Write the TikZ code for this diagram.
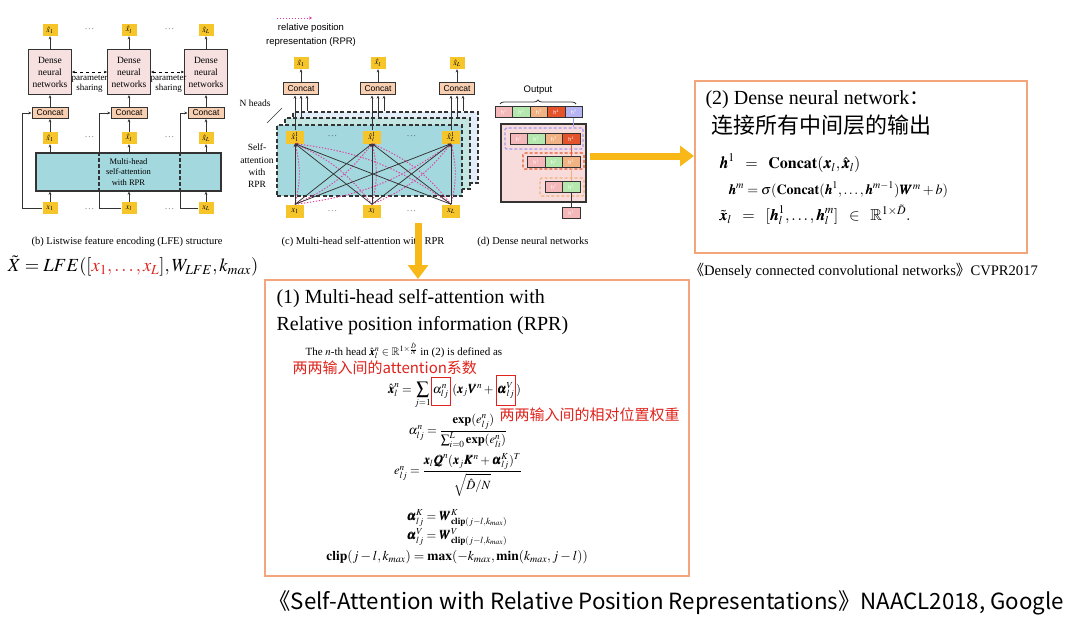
\documentclass[tikz,border=0pt]{standalone}
\usepackage{amsmath}
\usepackage{amssymb}
\usepackage{mathptmx}
\usepackage{bm}
\usepackage{fontspec}
\setmainfont{Liberation Serif}
\setsansfont{Liberation Sans}
\newfontfamily\cjk{Noto Sans CJK SC}
\usetikzlibrary{arrows.meta,decorations.pathreplacing}

\definecolor{tagyellow}{HTML}{F6C52A}
\definecolor{densepink}{HTML}{F6E0E0}
\definecolor{peach}{HTML}{F9CFB2}
\definecolor{attteal}{HTML}{A3D9DE}
\definecolor{layermid}{HTML}{C4E6E2}
\definecolor{layerback}{HTML}{E4EEF8}
\definecolor{rprpink}{HTML}{E23A9E}
\definecolor{arrowgold}{HTML}{F8B818}
\definecolor{frameorange}{HTML}{F3A67C}
\definecolor{notered}{HTML}{E0231C}
\definecolor{hone}{HTML}{F4B8BA}
\definecolor{htwo}{HTML}{B4E8AE}
\definecolor{hthree}{HTML}{F1B384}
\definecolor{hfour}{HTML}{E5532B}
\definecolor{hfive}{HTML}{B6B4F2}
\definecolor{hbig}{HTML}{F8DCDC}
\definecolor{hpurple}{HTML}{A39CF0}
\definecolor{hred}{HTML}{E85A30}
\definecolor{horange}{HTML}{F2B07A}
\definecolor{inkgray}{HTML}{333333}

\newcommand{\fs}[2]{\fontsize{#1}{#2}\selectfont}
\newcommand{\eqf}{\fs{12.5}{15}}
\newcommand{\wide}{\mkern8mu}

\begin{document}
\begin{tikzpicture}[x=1pt,y=-1pt,
  arr/.style={-{Stealth[length=3.2pt,width=2.8pt]}, line width=0.75pt, draw=inkgray},
  tag/.style={fill=tagyellow, inner sep=0pt, minimum width=15pt, minimum height=12pt, font=\fs{8}{9}},
  bigtag/.style={tag, minimum width=18pt, minimum height=13pt, font=\fs{8.5}{9}},
  densebox/.style={draw=inkgray, line width=1.2pt, fill=densepink, minimum width=43pt, minimum height=45pt, align=center, inner sep=0pt, font=\fs{9.5}{12}},
  catbox/.style={draw=inkgray, line width=1pt, fill=peach, minimum width=36pt, minimum height=11pt, inner sep=0pt, font=\sffamily\fs{8.5}{10}},
  attbox/.style={draw=inkgray, line width=1.2pt, fill=attteal, minimum width=185pt, minimum height=38pt, align=center, inner sep=0pt, font=\fs{8.5}{10.5}},
  layer/.style={draw=inkgray, line width=1.1pt, dash pattern=on 4pt off 2.5pt, minimum width=185pt, minimum height=71pt, inner sep=0pt},
  rpr/.style={draw=rprpink, line width=0.9pt, dash pattern=on 1.4pt off 1.6pt, -{Stealth[length=3pt,width=3pt]}},
  hcell/.style={draw=inkgray, line width=0.8pt, minimum width=17.5pt, minimum height=10.5pt, inner sep=0pt, text=white, font=\sffamily\fs{5.5}{6}},
  hframe/.style={line width=1.3pt, dash pattern=on 3pt off 2pt, rounded corners=1.5pt, inner sep=0pt},
  bigarrow/.style={line width=7pt, draw=arrowgold, -{Triangle[length=14pt,width=20pt]}},
  frame/.style={draw=frameorange, line width=2pt, fill=white, inner sep=0pt},
  caption/.style={font=\fs{10.5}{12}},
  redbox/.style={draw=notered, line width=1.1pt, inner xsep=1.5pt, inner ysep=7pt, anchor=base west, font=\eqf},
  eqpart/.style={inner sep=0pt, anchor=base west, font=\eqf}
]
\useasboundingbox (0,0) rectangle (1080,626);
\fill[white] (0,0) rectangle (1080,626);

% ---------------- (b) listwise feature encoding ----------------
\foreach \i/\cx/\s in {1/50/1,2/129/l,3/206/L}{
  \node[tag] (bout\i) at (\cx,30) {$\hat{x}_{\s}$};
  \node[densebox] (bden\i) at (\cx,72) {Dense\\neural\\networks};
  \node[catbox] (bcat\i) at (\cx,113) {Concat};
  \node[tag] (bhat\i) at (\cx,138) {$\hat{x}_{\s}$};
  \node[tag] (bin\i) at (\cx,208) {$x_{\s}$};
  \draw[arr] (bhat\i) -- (bcat\i);
  \draw[arr] (bcat\i) -- (bden\i);
  \draw[arr] (bden\i) -- (bout\i);
}
\foreach \k/\dx in {1/90,2/170}{
  \node[font=\fs{9}{10}] (bdotA\k) at (\dx,30) {$\cdots$};
  \node[font=\fs{9}{10}] (bdotB\k) at (\dx,138) {$\cdots$};
  \node[font=\fs{9}{10}] (bdotC\k) at (\dx,210) {$\cdots$};
}
\draw[dashed, line width=0.9pt, {Stealth[length=3pt,width=2.6pt]}-{Stealth[length=3pt,width=2.6pt]}] (bden1.east) -- (bden2.west);
\draw[dashed, line width=0.9pt, {Stealth[length=3pt,width=2.6pt]}-{Stealth[length=3pt,width=2.6pt]}] (bden2.east) -- (bden3.west);
\node[font=\fs{9}{10}, align=center] (bshare1) at (89.5,84) {parameter\\sharing};
\node[font=\fs{9}{10}, align=center] (bshare2) at (168.5,84) {parameter\\sharing};

% residual paths from the inputs to the concat blocks
\coordinate (bsk1) at (22,208);
\coordinate (bsk2) at (99,208);
\coordinate (bsk3) at (180,208);
\foreach \i in {1,2,3}{
  \draw[arr] (bin\i.west) -- (bsk\i) |- (bcat\i.west);
}
\node[attbox] (batt) at (128.5,172) {Multi-head\\self-attention\\with RPR};
\foreach \i in {2,3}{
  \draw[line width=1.1pt, inkgray, dash pattern=on 3.5pt off 2.5pt] (bsk\i |- batt.north) -- (bsk\i |- batt.south);
}
\foreach \i in {1,2,3}{
  \draw[arr] (bin\i) -- (bin\i |- batt.south);
  \draw[arr] (batt.north -| bhat\i) -- (bhat\i);
}
\node[caption] (bcap) at (127,242) {(b) Listwise feature encoding (LFE) structure};
\node[font=\fs{18.5}{21}] (bformula) at (133,266) {$\tilde{X} = LFE([\textcolor{notered}{x_1,\ldots,x_L}], W_{LFE}, k_{max})$};

% ---------------- (c) multi-head self-attention with RPR ----------------
\draw[rpr] (277,18) -- (312,18);
\node[font=\sffamily\fs{9.5}{13.5}, align=center] (clegend) at (311,35) {relative position\\representation (RPR)};

\node[layer, fill=layerback] (clay3) at (385.5,147.5) {};
\node[layer, fill=layermid] (clay2) at (377.5,153.5) {};
\node[layer, fill=attteal] (clay1) at (369.5,160.5) {};

\foreach \i/\cx/\s in {1/295/1,2/372/l,3/451/L}{
  \node[bigtag] (chat\i) at (\cx,137) {$\hat{x}^{1}_{\s}$};
  \node[bigtag] (cin\i) at (\cx,211) {$x_{\s}$};
  \node[catbox, minimum width=35pt, minimum height=12pt] (ccat\i) at (\cx+6,89) {Concat};
  \node[tag] (cout\i) at (\cx+6,63) {$\hat{x}_{\s}$};
  \coordinate (cr\i) at ([xshift=6pt]ccat\i.south);
  \draw[arr] (chat\i.north) -- (chat\i.north |- ccat\i.south);
  \draw[arr] (ccat\i.south |- clay2.north) -- (ccat\i.south);
  \draw[arr] (cr\i |- clay3.north) -- (cr\i);
  \draw[arr] (ccat\i) -- (cout\i);
}
\foreach \k/\dx in {1/333,2/412}{
  \node[font=\fs{9}{10}] (cdotA\k) at (\dx,137) {$\cdots$};
  \node[font=\fs{9}{10}] (cdotB\k) at (\dx,212) {$\cdots$};
}
% relative position terms (dotted) and attention links (solid)
\foreach \i in {1,2,3}{
  \foreach \j in {1,2,3}{
    \draw[rpr] (cin\j.north) to[bend right=14] (chat\i.south);
  }
}
\foreach \i in {1,2,3}{
  \foreach \j in {1,2,3}{
    \draw[arr] (cin\j.north) -- (chat\i.south);
  }
}
\node[anchor=east, font=\fs{9.5}{11}] (cheads) at (274,103) {N heads};
\draw[line width=0.6pt, inkgray] (267,123) -- (282,108);
\node[align=center, font=\fs{9.5}{12.3}] (cself) at (257,166) {Self-\\attention\\with\\RPR};
\node[caption] (ccap) at (363,242) {(c) Multi-head self-attention with RPR};

% ---------------- (d) dense neural networks ----------------
\node[font=\sffamily\fs{9.5}{11}] (doutlab) at (538,90) {Output};
\draw[line width=0.8pt, inkgray, decorate, decoration={brace, amplitude=4pt}] (500,104) -- (576,104);

\node[draw=inkgray, line width=1.2pt, fill=hbig, minimum width=85pt, minimum height=78pt, inner sep=0pt] (dbig) at (543.5,163) {};
\node[hframe, draw=hpurple, minimum width=78pt, minimum height=21pt] (dpur) at (544,138.5) {};
\node[hframe, draw=hred, minimum width=61pt, minimum height=16pt] (dred) at (553.5,161) {};
\node[hframe, draw=horange, minimum width=44pt, minimum height=18pt] (dora) at (562,187) {};

\foreach \k/\col in {1/hone,2/htwo,3/hthree,4/hfour,5/hfive}
  \node[hcell, fill=\col] (do\k) at ({495+17.5*(\k-0.5)},112) {h$^{\k}$};
\foreach \k/\col in {1/hone,2/htwo,3/hthree,4/hfour}
  \node[hcell, fill=\col] (dd\k) at ({510+17.5*(\k-0.5)},139) {h$^{\k}$};
\foreach \k/\col in {1/hone,2/htwo,3/hthree}
  \node[hcell, fill=\col] (dc\k) at ({527.5+17.5*(\k-0.5)},162) {h$^{\k}$};
\foreach \k/\col in {1/hone,2/htwo}
  \node[hcell, fill=\col] (db\k) at ({545+17.5*(\k-0.5)},187) {h$^{\k}$};
\node[hcell, fill=hone] (da1) at (571.25,213) {h$^{1}$};

\draw[hpurple, line width=1.2pt] (do5.south) -- (do5.south |- dpur.north);
\draw[hred, line width=1.2pt] (dd4.south) -- (dc3.north);
\draw[horange, line width=1.2pt] (dc3.south) -- (db2.north);
\draw[inkgray, line width=1pt] (db2.south) -- (da1.north);
\node[caption] (dcap) at (533,242) {(d) Dense neural networks};

% ---------------- (2) dense network box ----------------
\node[frame, minimum width=332pt, minimum height=172pt] (boxtwo) at (861,167) {};
\node[anchor=west, font=\fs{20}{24}] (twotitle) at (702,100) {(2) Dense neural network{\cjk ：}};
\node[anchor=west, font=\cjk\fs{22}{24}] (twosub) at (708,125) {连接所有中间层的输出};
\node[anchor=west, font=\fs{16}{18}] (twoeqa) at (716,163) {$\bm{h}^1 \wide=\wide \mathbf{Concat}(\bm{x}_l, \hat{\bm{x}}_l)$};
\node[anchor=west, font=\fs{14}{16}] (twoeqb) at (725,190) {$\bm{h}^m = \sigma(\mathbf{Concat}(\bm{h}^1,\ldots,\bm{h}^{m-1})\bm{W}^m + b)$};
\node[anchor=west, font=\fs{16}{18}] (twoeqc) at (716,215) {$\tilde{\bm{x}}_l \wide=\wide [\bm{h}_l^1,\ldots,\bm{h}_l^m] \wide\in\wide \mathbb{R}^{1\times\tilde{D}}.$};
\node[anchor=west, font=\fs{14.6}{16}] (twocite) at (686,271) {{\cjk 《}Densely connected convolutional networks{\cjk 》}CVPR2017};

% ---------------- (1) self-attention box ----------------
\node[frame, minimum width=424pt, minimum height=296pt] (boxone) at (477,428) {};
\node[anchor=west, font=\fs{20}{24}] (onetitleA) at (273,299) {(1) Multi-head self-attention with};
\node[anchor=west, font=\fs{20}{24}] (onetitleB) at (273,326) {Relative position information (RPR)};
\node[anchor=west, font=\fs{11}{12}] (onehead) at (302,351) {The $n$-th head $\hat{\bm{x}}_l^n \in \mathbb{R}^{1\times\frac{\hat{D}}{N}}$ in (2) is defined as};

\node[eqpart] (eqa) at (388,393) {$\displaystyle\hat{\bm{x}}_l^n = \sum_{j=1}$};
\node[redbox] (eqb) at (eqa.base east) {$\alpha_{lj}^n$};
\node[eqpart] (eqc) at (eqb.base east) {$\,(\bm{x}_j\bm{V}^n + {}$};
\node[redbox, inner xsep=1pt] (eqd) at (eqc.base east) {$\bm{\alpha}_{lj}^V$};
\node[eqpart] (eqe) at (eqd.base east) {$)$};

\node[font=\eqf] (eqexp) at (458,431) {$\alpha_{lj}^n = \dfrac{\mathbf{exp}(e_{lj}^n)}{\sum_{i=0}^{L}\mathbf{exp}(e_{li}^n)}$};
\node[font=\eqf] (eqelj) at (458,475) {$e_{lj}^n = \dfrac{\bm{x}_l\bm{Q}^n(\bm{x}_j\bm{K}^n + \bm{\alpha}_{lj}^K)^T}{\sqrt{\hat{D}/N}}$};
\node[font=\eqf] (eqk) at (457,518) {$\bm{\alpha}_{lj}^K = \bm{W}^K_{\mathbf{clip}(j-l,k_{max})}$};
\node[font=\eqf] (eqv) at (457,537) {$\bm{\alpha}_{lj}^V = \bm{W}^V_{\mathbf{clip}(j-l,k_{max})}$};
\node[font=\fs{13.5}{15}] (eqclip) at (457,557) {$\mathbf{clip}(j-l,k_{max}) = \mathbf{max}(-k_{max},\mathbf{min}(k_{max},j-l))$};

\node[anchor=west, text=notered, font=\cjk\fs{15}{17}] (noteA) at (289,368) {两两输入间的attention系数};
\node[anchor=west, text=notered, font=\cjk\fs{15}{17}] (noteB) at (496,415) {两两输入间的相对位置权重};

% ---------------- connecting arrows ----------------
\coordinate (garr1) at (590,156);
\draw[bigarrow] (garr1) -- (boxtwo.west |- garr1);
\coordinate (garr2) at (418,223);
\draw[bigarrow] (garr2) -- (boxone.north -| garr2);

\node[anchor=west, font=\cjk\fs{22.3}{26}] (paperref) at (265,603) {《Self-Attention with Relative Position Representations》NAACL2018, Google};
\end{tikzpicture}
\end{document}
